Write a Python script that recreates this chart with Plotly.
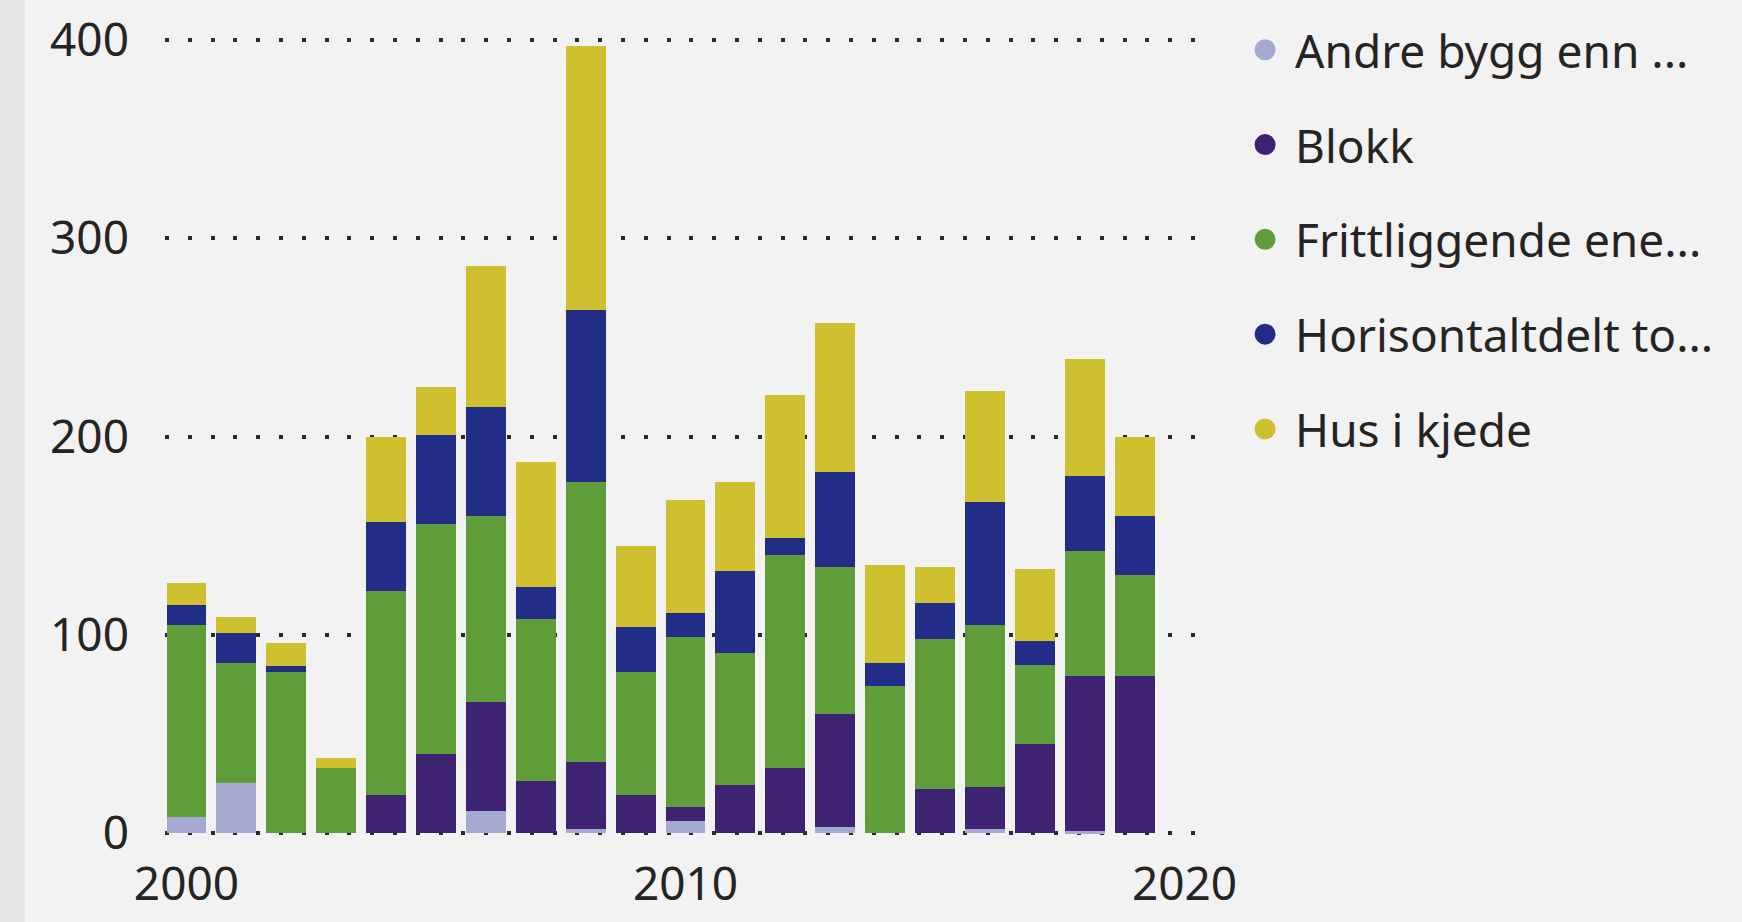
import plotly.graph_objects as go

years = list(range(2000, 2020))

andre = [8, 25, 0, 0, 0, 0, 11, 0, 2, 0, 6, 0, 0, 3, 0, 0, 2, 0, 1, 0]
blokk = [0, 0, 0, 0, 19, 40, 55, 26, 34, 19, 7, 24, 33, 57, 0, 22, 21, 45, 78, 79]
frittliggende = [97, 61, 81, 33, 103, 116, 94, 82, 141, 62, 86, 67, 107, 74, 74, 76, 82, 40, 63, 51]
horisontal = [10, 15, 3, 0, 35, 45, 55, 16, 87, 23, 12, 41, 9, 48, 12, 18, 62, 12, 38, 30]
hus_i_kjede = [11, 8, 12, 5, 43, 24, 71, 63, 133, 41, 57, 45, 72, 75, 49, 18, 56, 36, 59, 40]

series_names = ["Andre bygg enn ...", "Blokk", "Frittliggende ene...",
                "Horisontaltdelt to...", "Hus i kjede"]
series_values = [andre, blokk, frittliggende, horisontal, hus_i_kjede]
series_colors = ["#a6aad0", "#3e2373", "#5f9d3b", "#222d87", "#cfc030"]

y_ticks = [0, 100, 200, 300, 400]
x_ticks = [2000, 2010, 2020]

FONT = "Segoe UI, Noto Sans, Open Sans, sans-serif"
TEXT = "#252423"

fig = go.Figure()
for i, (name, vals, col) in enumerate(zip(series_names, series_values, series_colors)):
    fig.add_trace(go.Bar(
        x=years, y=vals, name=name, marker=dict(color=col, line=dict(width=0)),
        width=0.8, showlegend=False, legendgroup=f"g{i}",
    ))
    fig.add_trace(go.Scatter(
        x=[None], y=[None], mode="markers", name=name, legendgroup=f"g{i}",
        marker=dict(symbol="circle", size=16, color=col, line=dict(color=col, width=5)),
        showlegend=True,
    ))

fig.update_layout(
    width=1742, height=922,
    barmode="stack",
    paper_bgcolor="#f3f2f2",
    plot_bgcolor="#f3f2f2",
    margin=dict(l=165, r=537, t=38, b=87, autoexpand=False),
    font=dict(family=FONT, size=46, color=TEXT),
    legend=dict(
        xref="container", yref="container",
        x=0.709, xanchor="left", y=0.9855, yanchor="top",
        font=dict(family=FONT, size=46, color=TEXT),
        itemwidth=50, tracegroupgap=32, bgcolor="rgba(0,0,0,0)",
    ),
    shapes=[dict(type="rect", xref="paper", yref="paper",
                 x0=-0.1587, x1=-0.1346, y0=-0.2, y1=1.1,
                 fillcolor="#e7e7e7", line=dict(width=0), layer="below")],
)
fig.update_xaxes(
    range=[1999.57, 2020.41], tickvals=x_ticks, ticktext=[str(t) for t in x_ticks],
    showgrid=False, zeroline=False, showline=False, ticks="",
    ticklabelstandoff=18,
)
fig.update_yaxes(
    range=[-1, 401], tickvals=y_ticks, showgrid=True, gridcolor="#2a2a2a",
    gridwidth=4, griddash="4px,18.8px", zeroline=False, showline=False,
    ticks="", ticklabelstandoff=35,
)

fig.write_html(
    "out.html",
    config={"displayModeBar": False},
    post_script="document.body.style.margin='0';document.body.style.overflow='hidden';",
)
